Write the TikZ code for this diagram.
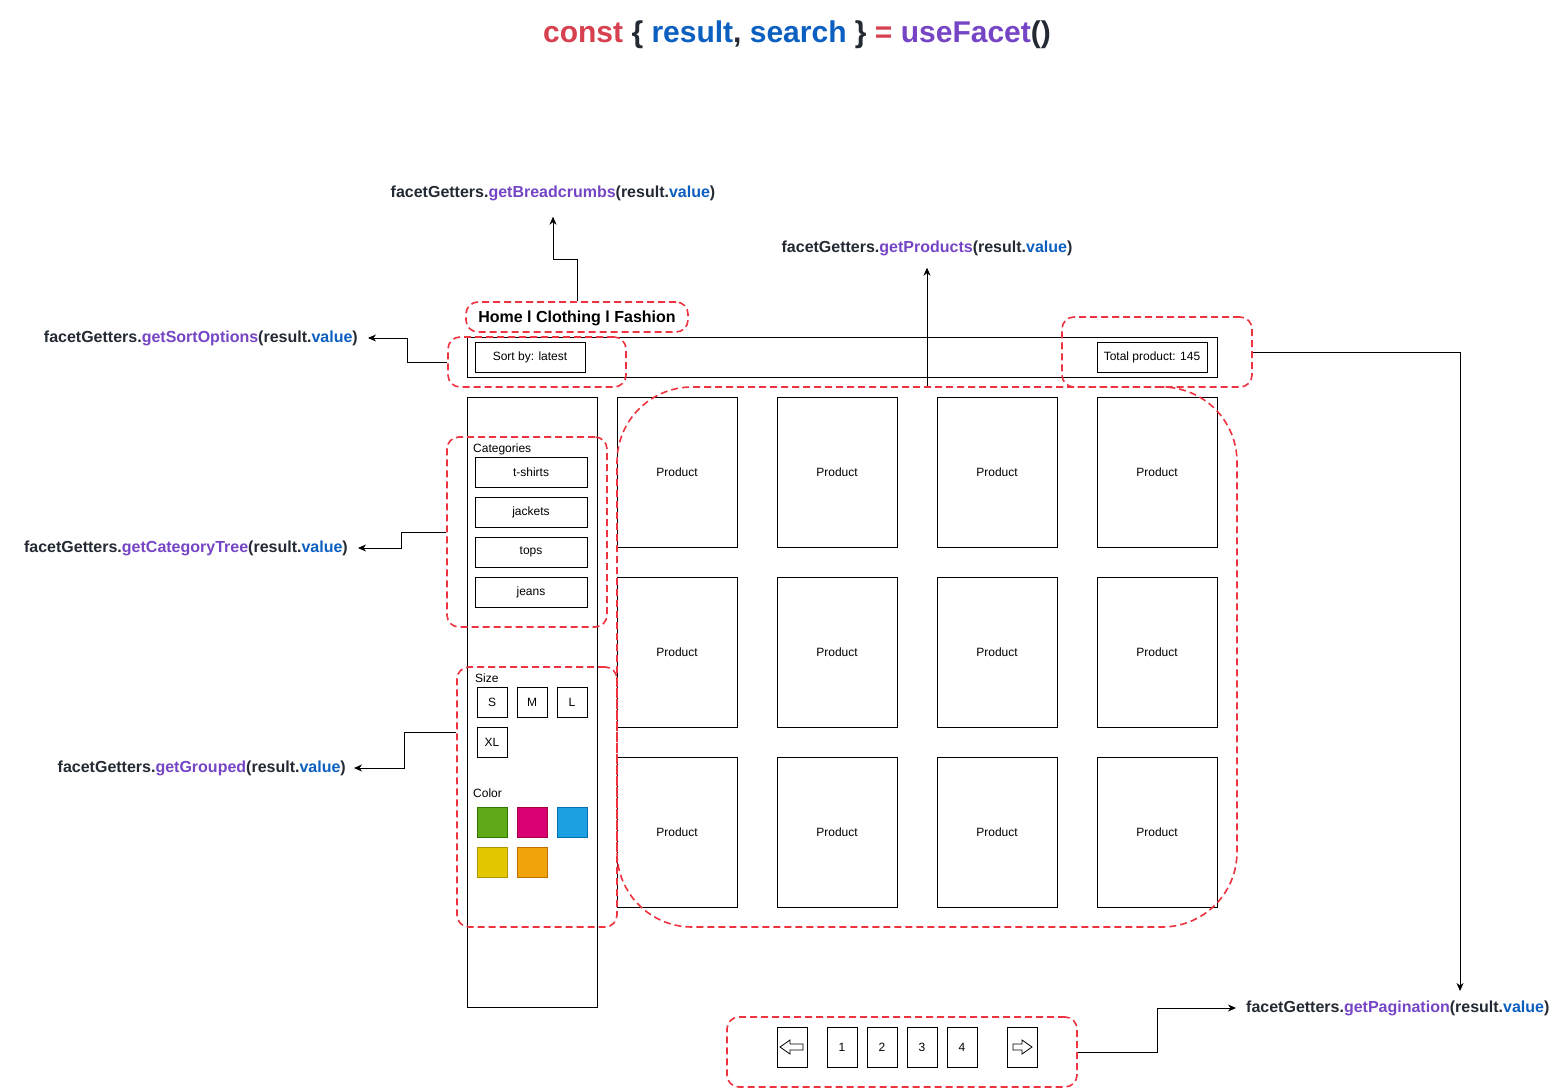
\documentclass[tikz,border=0pt]{standalone}
\usepackage{fontspec}
\setmainfont{Liberation Sans}
\usetikzlibrary{arrows.meta}
\definecolor{fgred}{HTML}{D6404F}
\definecolor{fgblue}{HTML}{0A5FC0}
\definecolor{fgpurple}{HTML}{7545C6}
\definecolor{fgdark}{HTML}{242A33}
\definecolor{zonered}{HTML}{EE3340}
\newcommand{\getter}[1]{\textcolor{fgdark}{facetGetters.}\textcolor{fgpurple}{#1}\textcolor{fgdark}{(result.}\textcolor{fgblue}{value}\textcolor{fgdark}{)}}

\begin{document}
\begin{tikzpicture}[x=1pt,y=-1pt,
  box/.style={draw,line width=0.9pt,inner sep=0pt,font=\fontsize{12}{14}\selectfont},
  zone/.style={draw=zonered,dash pattern=on 7pt off 4pt,line width=1.6pt,rounded corners=12pt,inner sep=0pt},
  getter/.style={font=\bfseries\fontsize{16}{19}\selectfont,inner sep=0pt},
  tag/.style={font=\fontsize{12}{14}\selectfont,inner sep=0pt,anchor=west},
  swatch/.style={draw,line width=0.8pt,minimum size=30pt,inner sep=0pt},
  link/.style={line width=0.9pt,-{Stealth[length=8pt,width=7pt,inset=2.5pt]}}]
  \useasboundingbox[fill=white] (0,0) rectangle (1561,1092);

  % title
  \draw (797,35) node[inner sep=0pt,font=\bfseries\fontsize{30}{36}\selectfont] (title)
    {\textcolor{fgred}{const} \textcolor{fgdark}{\{} \textcolor{fgblue}{result}\textcolor{fgdark}{,} \textcolor{fgblue}{search} \textcolor{fgdark}{\}} \textcolor{fgred}{=} \textcolor{fgpurple}{useFacet}\textcolor{fgdark}{()}};

  % page layout
  \node[box,minimum width=750pt,minimum height=40pt] (topbar) at (842,357) {};
  \node[box,minimum width=130pt,minimum height=610pt] (sidebar) at (532,702) {};
  \node[box,minimum width=110pt,minimum height=30pt] (sortbox) at (530,357) {\raisebox{-1pt}{Sort by: latest}};
  \node[box,minimum width=110pt,minimum height=30pt] (totalbox) at (1152,357) {\raisebox{-1pt}{Total product: 145}};
  \node[inner sep=0pt,font=\bfseries\fontsize{16}{19}\selectfont] (crumbs) at (577,318) {Home l Clothing l Fashion};

  \foreach \c [count=\i] in {677,837,997,1157}
    \foreach \r [count=\j] in {472,652,832}
      \node[box,minimum width=120pt,minimum height=150pt] (p\j\i) at (\c,\r) {\raisebox{-1pt}{Product}};

  % sidebar filters
  \node[tag] (cattitle) at (473,449) {Categories};
  \foreach \name/\r in {t-shirts/472,jackets/512,tops/552,jeans/592}
    \node[box,minimum width=112pt,minimum height=30pt] (cat\r) at (531,\r) {\raisebox{-1pt}{\name}};
  \node[tag] (sizetitle) at (475,678) {Size};
  \node[box,minimum size=30pt] (sizes) at (492,702) {\raisebox{-1pt}{S}};
  \node[box,minimum size=30pt] (sizem) at (532,702) {\raisebox{-1pt}{M}};
  \node[box,minimum size=30pt] (sizel) at (572,702) {\raisebox{-1pt}{L}};
  \node[box,minimum size=30pt] (sizexl) at (492,742) {\raisebox{-1pt}{XL}};
  \node[tag] (colortitle) at (473,793) {Color};
  \node[swatch,fill={rgb,255:red,96;green,169;blue,23},draw={rgb,255:red,45;green,118;blue,0}] (green) at (492,822) {};
  \node[swatch,fill={rgb,255:red,216;green,0;blue,115},draw={rgb,255:red,165;green,0;blue,64}] (magenta) at (532,822) {};
  \node[swatch,fill={rgb,255:red,27;green,161;blue,226},draw={rgb,255:red,0;green,110;blue,175}] (cyan) at (572,822) {};
  \node[swatch,fill={rgb,255:red,227;green,200;blue,0},draw={rgb,255:red,176;green,149;blue,0}] (yellow) at (492,862) {};
  \node[swatch,fill={rgb,255:red,240;green,163;blue,10},draw={rgb,255:red,189;green,112;blue,0}] (orange) at (532,862) {};

  % pagination
  \node[box,minimum width=30pt,minimum height=40pt] (prev) at (792,1047) {};
  \foreach \n/\c in {1/842,2/882,3/922,4/962}
    \node[box,minimum width=30pt,minimum height=40pt] (page\n) at (\c,1047) {\raisebox{-1pt}{\n}};
  \node[box,minimum width=30pt,minimum height=40pt] (next) at (1022,1047) {};
  \draw[line width=0.8pt] (780,1047) -- (790,1040) -- (790,1044) -- (803,1044) -- (803,1050) -- (790,1050) -- (790,1054) -- cycle;
  \draw[line width=0.8pt] (1032,1047) -- (1022,1040) -- (1022,1044) -- (1013,1044) -- (1013,1050) -- (1022,1050) -- (1022,1054) -- cycle;

  % dashed zones
  \node[zone,minimum width=222pt,minimum height=30pt] (crumbzone) at (577,317) {};
  \node[zone,minimum width=178pt,minimum height=50pt] (sortzone) at (537,362) {};
  \node[zone,minimum width=190pt,minimum height=70pt] (totalzone) at (1157,352) {};
  \node[zone,minimum width=620pt,minimum height=540pt,rounded corners=75pt] (prodzone) at (927,657) {};
  \node[zone,minimum width=160pt,minimum height=190pt] (catzone) at (527,532) {};
  \node[zone,minimum width=160pt,minimum height=260pt] (groupzone) at (537,797) {};
  \node[zone,minimum width=350pt,minimum height=70pt] (pagezone) at (902,1052) {};

  % getters
  \node[getter] (crumblabel) at (553,193) {\getter{getBreadcrumbs}};
  \node[getter] (prodlabel) at (927,248) {\getter{getProducts}};
  \node[getter,anchor=east] (sortlabel) at (358,338) {\getter{getSortOptions}};
  \node[getter,anchor=east] (catlabel) at (348,548) {\getter{getCategoryTree}};
  \node[getter,anchor=east] (grouplabel) at (346,768) {\getter{getGrouped}};
  \node[getter,anchor=west] (paglabel) at (1246,1008) {\getter{getPagination}};
  \coordinate (pagturn) at (1460,352);
  \coordinate (pagend) at (1460,991);

  \draw[link] (crumbzone.north) -- ++(0,-42) -| ([yshift=-16pt]crumblabel.south);
  \draw[link] (prodzone.north) -- ([yshift=-12pt]prodlabel.south);
  \draw[link] (sortzone.west) -- ++(-40,0) |- ([xshift=10pt]sortlabel.east);
  \draw[link] (catzone.west) -- ++(-45,0) |- ([xshift=10pt]catlabel.east);
  \draw[link] ([yshift=65pt]groupzone.west) -- ++(-52,0) |- ([xshift=8pt]grouplabel.east);
  \draw[link] (totalzone.east) -- (pagturn) -- (pagend);
  \draw[link] (pagezone.east) -- ++(80,0) |- ([xshift=-10pt]paglabel.west);
\end{tikzpicture}
\end{document}
